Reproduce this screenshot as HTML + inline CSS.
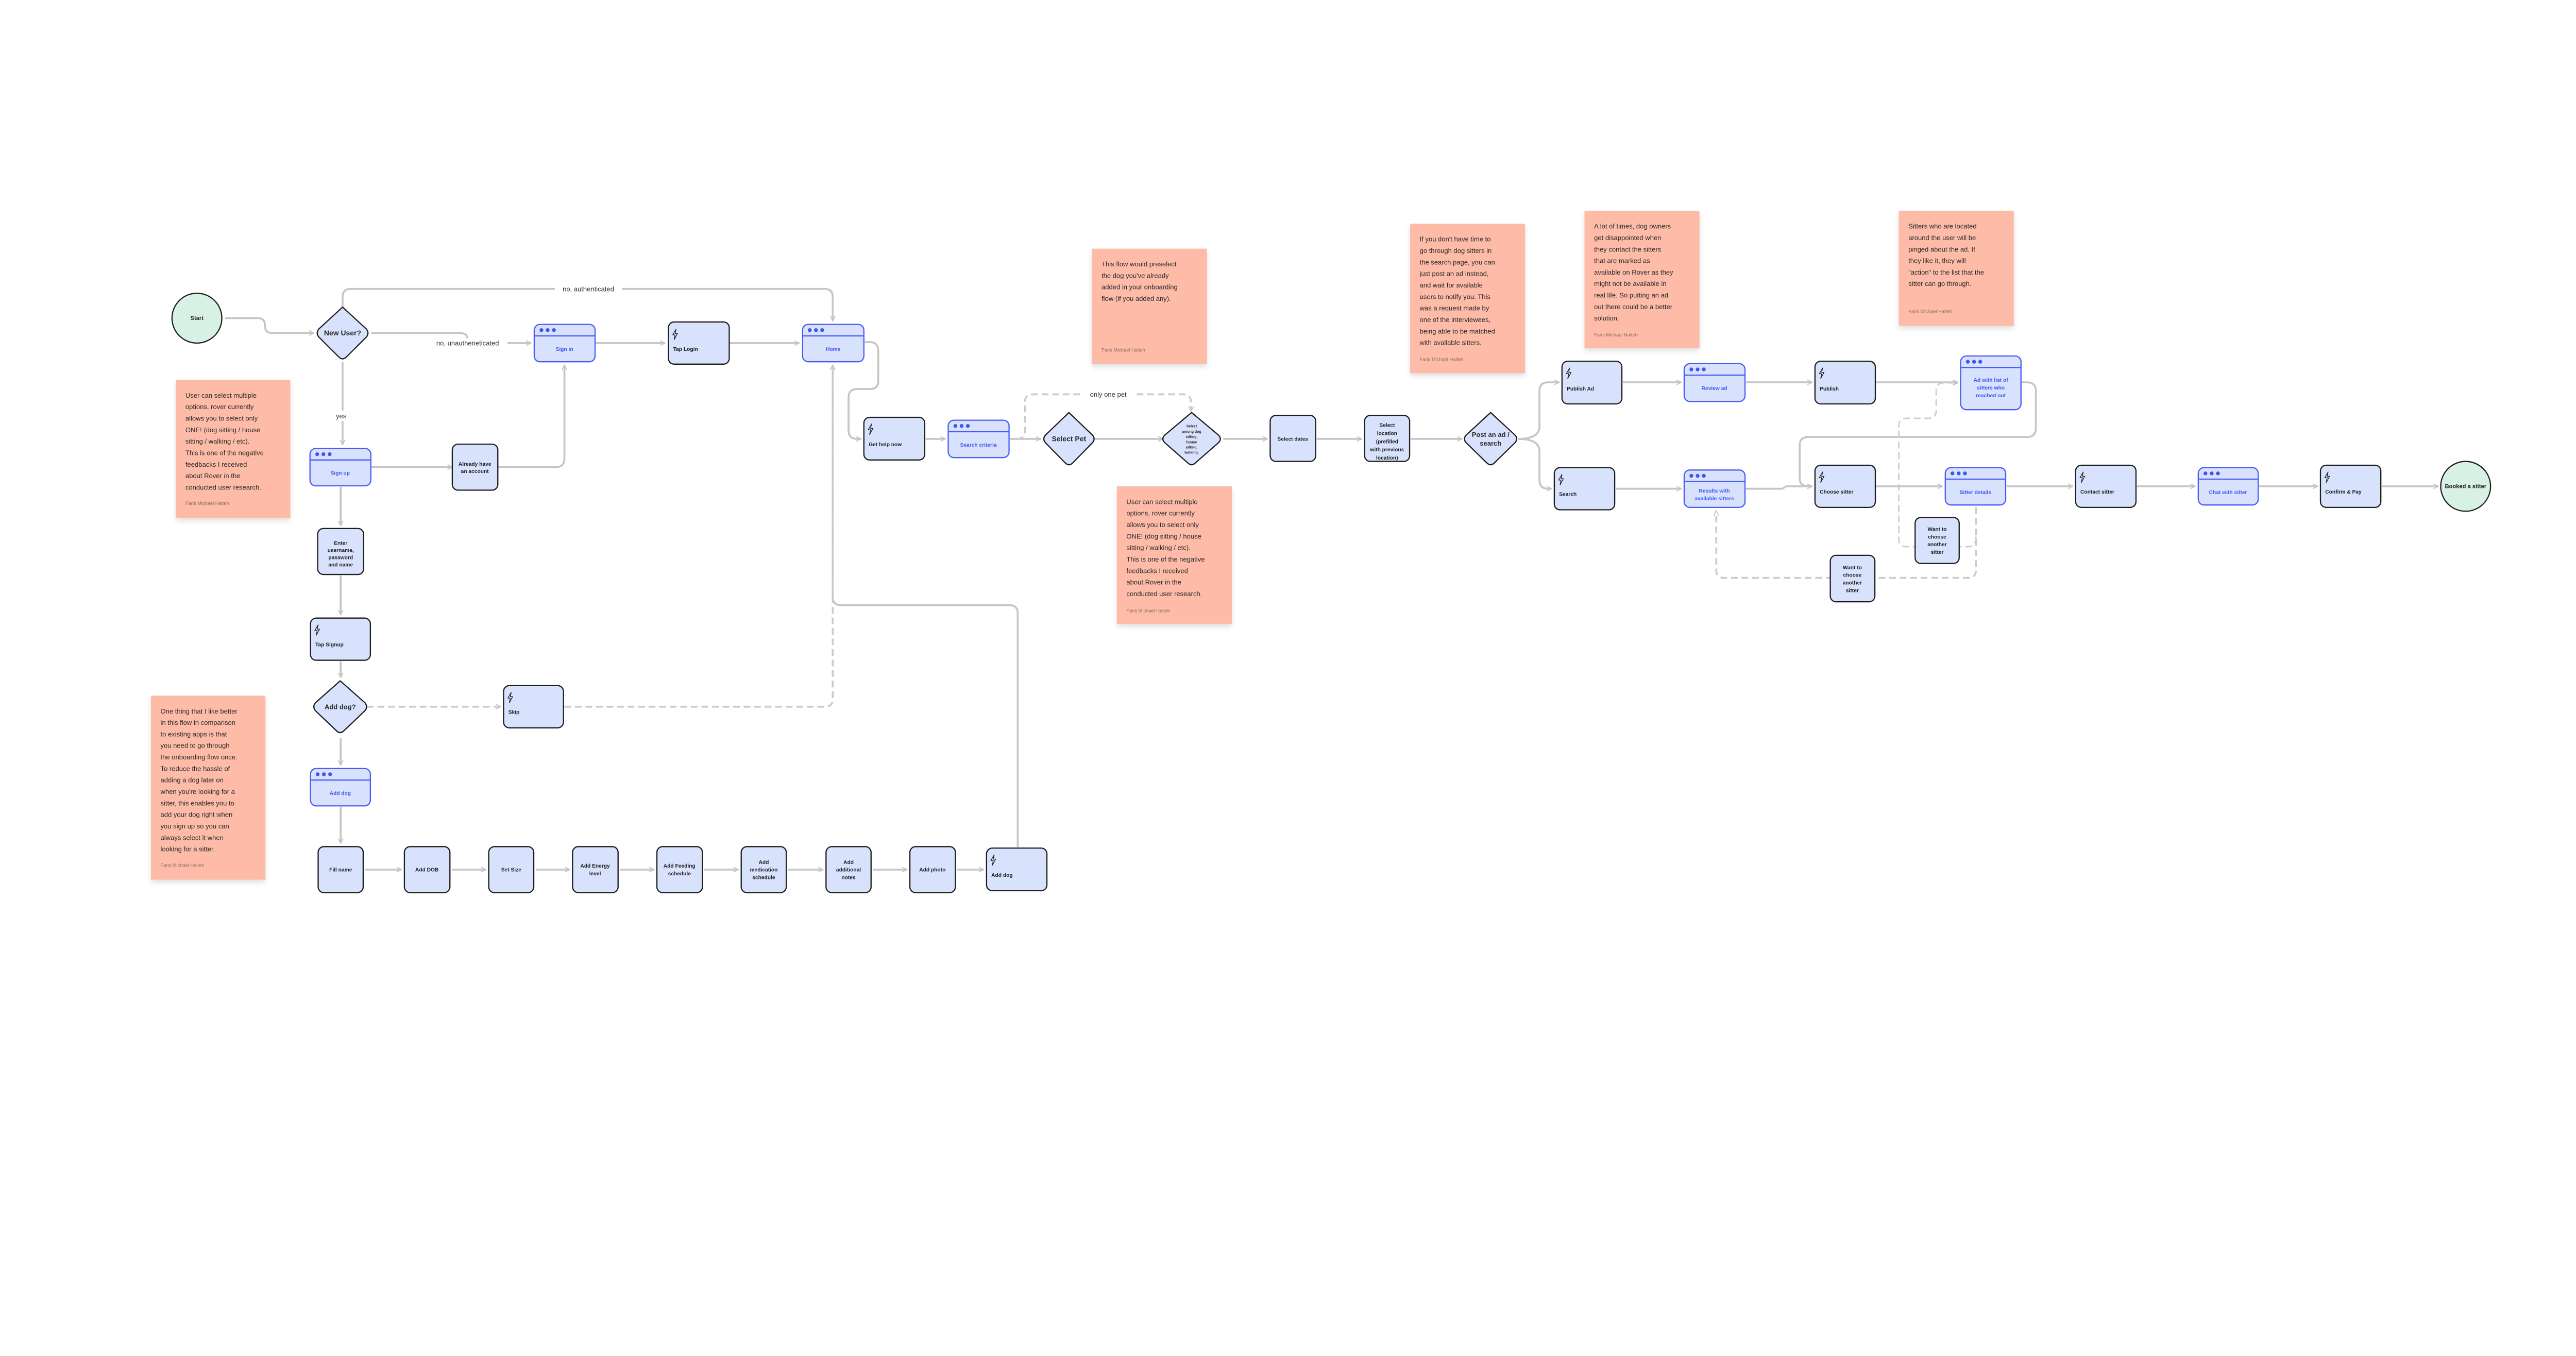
<!DOCTYPE html>
<html><head><meta charset="utf-8"><style>
html,body{margin:0;padding:0;background:#fff;}
body{width:5388px;height:2629px;position:relative;overflow:hidden;font-family:"Liberation Sans",sans-serif;}
#w{position:absolute;left:0;top:0;width:5800px;height:2830px;transform:scale(0.93);transform-origin:0 0;}
.note{position:absolute;background:#fdbba8;box-shadow:0 6px 10px rgba(0,0,0,0.12);box-sizing:border-box;padding:20px 18px 0 20px;font-size:14px;line-height:24px;color:#2a2a2a;}
.note .a{position:absolute;left:20px;font-size:10px;color:#8a6a60;line-height:12px;}
svg{position:absolute;left:0;top:0;}
</style></head><body><div id="w">
<svg width="5800" height="2830" viewBox="0 0 5800 2830" xmlns="http://www.w3.org/2000/svg" font-family="Liberation Sans, sans-serif">
<defs>
<marker id="ar" viewBox="0 0 12 12" refX="11" refY="6" markerWidth="12" markerHeight="12" markerUnits="userSpaceOnUse" orient="auto"><path d="M1,1 L11,6 L1,11" fill="none" stroke="#c4c4c4" stroke-width="2"/></marker>
<symbol id="bolt" viewBox="0 0 12 24"><path d="M8,1 L1,13 L6,13 L4,23 L11,10 L6,10 Z" fill="none" stroke="#1e1e1e" stroke-width="1.4" stroke-linejoin="round"/></symbol>
</defs>
<g fill="none" stroke="#c6c6c6" stroke-width="4" marker-end="url(#ar)">
<path d="M470,664 H538 Q553,664 553,679 V680 Q553,695 568,695 H655"/>
<path d="M715,641 V620 Q715,603 732,603 H1721 Q1738,603 1738,620 V670"/>
<path d="M775,695 H958 Q975,695 975,705 Q975,716 992,716 H1108"/>
<path d="M1242,716 H1388"/>
<path d="M1522,716 H1668"/>
<path d="M715,755 V928"/>
<path d="M774,975 H944" marker-end=""/>
<path d="M1039,975 H1160 Q1178,975 1178,957 V762"/>
<path d="M711,1016 V1097"/>
<path d="M711,1201 V1283"/>
<path d="M711,1380 V1414"/>
<path d="M711,1540 V1597"/>
<path d="M711,1684 V1760"/>
<path d="M762,1815 H838"/><path d="M943,1815 H1014"/><path d="M1118,1815 H1189"/><path d="M1294,1815 H1365"/><path d="M1470,1815 H1541"/><path d="M1645,1815 H1718"/><path d="M1822,1815 H1893"/><path d="M1998,1815 H2053"/>
<path d="M2124,1768 V1280 Q2124,1263 2107,1263 H1755 Q1738,1263 1738,1246 V762"/>
<path d="M1805,714 H1815 Q1833,714 1833,732 V795 Q1833,812 1815,812 H1789 Q1771,812 1771,830 V898 Q1771,916 1789,916 H1797"/>
<path d="M1932,916 H1973"/>
<path d="M2108,916 H2172"/>
<path d="M2286,916 H2427"/>
<path d="M2553,916 H2645"/>
<path d="M2748,916 H2842"/>
<path d="M2944,916 H3051"/>
<path d="M3168,916 Q3213,916 3213,890 V816 Q3213,798 3231,798 H3254"/>
<path d="M3168,916 Q3213,916 3213,942 V1002 Q3213,1020 3231,1020 H3238"/>
<path d="M3387,798 H3509"/>
<path d="M3644,798 H3782"/>
<path d="M3916,798 H4086"/>
<path d="M4220,798 H4231 Q4249,798 4249,816 V894 Q4249,912 4231,912 H3774 Q3756,912 3756,930 V997 Q3756,1015 3774,1015 H3782"/>
<path d="M3372,1020 H3509"/>
<path d="M3644,1020 H3720 L3728,1015 H3782"/>
<path d="M3916,1015 H4054"/>
<path d="M4188,1015 H4326"/>
<path d="M4460,1015 H4582"/>
<path d="M4715,1015 H4837"/>
<path d="M4971,1015 H5089"/>
</g>
<g fill="none" stroke="#cccccc" stroke-width="4" stroke-dasharray="14,8" marker-end="url(#ar)">
<path d="M766,1475 H1045"/>
<path d="M1178,1475 H1722 Q1738,1475 1738,1459 V762" marker-end=""/>
<path d="M2122,916 Q2139,916 2139,899 V840 Q2139,823 2156,823 H2469 Q2486,823 2486,840 V858"/>
<path d="M4124,1059 V1190 Q4124,1206 4108,1206 H3598 Q3582,1206 3582,1190 V1066"/>
<path d="M4124,1120 Q4124,1141 4108,1141 H3979 Q3963,1141 3963,1125 V889 Q3963,873 3979,873 H4025 Q4041,873 4041,857 V815 Q4041,799 4057,799 H4086" stroke-width="3"/>
</g>
<g font-size="14" fill="#333" text-anchor="middle">
<rect x="1158" y="593" width="140" height="20" fill="#fff"/><text x="1228" y="608">no, authenticated</text>
<rect x="893" y="706" width="166" height="20" fill="#fff"/><text x="976" y="721">no, unautheneticated</text>
<rect x="698" y="857" width="28" height="22" fill="#fff"/><text x="712" y="873">yes</text>
<rect x="2258" y="813" width="110" height="20" fill="#fff"/><text x="2313" y="828">only one pet</text>
</g>
<ellipse cx="411" cy="664" rx="52" ry="52" fill="#d7f2e4" stroke="#1e1e1e" stroke-width="2.5"/>
<text x="411" y="668" font-size="12" font-weight="bold" text-anchor="middle" fill="#1e1e1e">Start</text>
<ellipse cx="5146" cy="1015" rx="52" ry="52" fill="#d7f2e4" stroke="#1e1e1e" stroke-width="2.5"/>
<text x="5146" y="1019" font-size="12" font-weight="bold" text-anchor="middle" fill="#1e1e1e">Booked a sitter</text>
<g fill="#d8e2fd" stroke="#1e1e1e" stroke-width="2.5" stroke-linejoin="round">
<path d="M715,641 L765,687 Q771,695 765,703 L723,745 Q715,753 707,745 L665,703 Q659,695 665,687 Z"/>
<path d="M710,1421 L762,1467 Q768,1475 762,1483 L718,1525 Q710,1533 702,1525 L658,1483 Q652,1475 658,1467 Z"/>
<path d="M2231,861 L2280,908 Q2287,916 2280,924 L2239,966 Q2231,974 2223,966 L2182,924 Q2175,916 2182,908 Z"/>
<path d="M2487,861 L2543,908 Q2551,916 2543,924 L2495,966 Q2487,974 2479,966 L2431,924 Q2423,916 2431,908 Z"/>
<path d="M3111,861 L3162,908 Q3169,916 3162,924 L3119,966 Q3111,974 3103,966 L3060,924 Q3053,916 3060,908 Z"/>
</g>
<g font-weight="bold" text-anchor="middle" fill="#2a2a2a">
<text x="715" y="700" font-size="15">New User?</text>
<text x="710" y="1480" font-size="14">Add dog?</text>
<text x="2231" y="921" font-size="15">Select Pet</text>
<text x="3111" y="912" font-size="14">Post an ad /</text>
<text x="3111" y="930" font-size="14">search</text>
<g font-size="7.5"><text x="2487" y="892">Select</text><text x="2487" y="903">among dog</text><text x="2487" y="914">sitting,</text><text x="2487" y="925">house</text><text x="2487" y="936">sitting,</text><text x="2487" y="947">walking,</text></g>
</g>
<g fill="#d8e2fd" stroke="#1e1e1e" stroke-width="2.5">
<rect x="944" y="927" width="95" height="96" rx="12"/>
<rect x="663" y="1103" width="96" height="96" rx="12"/>
<rect x="664" y="1767" width="94" height="96" rx="12"/>
<rect x="844" y="1767" width="95" height="96" rx="12"/>
<rect x="1020" y="1767" width="94" height="96" rx="12"/>
<rect x="1195" y="1767" width="95" height="96" rx="12"/>
<rect x="1371" y="1767" width="95" height="96" rx="12"/>
<rect x="1547" y="1767" width="94" height="96" rx="12"/>
<rect x="1724" y="1767" width="94" height="96" rx="12"/>
<rect x="1899" y="1767" width="95" height="96" rx="12"/>
<rect x="2651" y="867" width="95" height="96" rx="12"/>
<rect x="2848" y="867" width="94" height="96" rx="12"/>
<rect x="3997" y="1080" width="92" height="96" rx="12"/>
<rect x="3820" y="1159" width="93" height="97" rx="12"/>
</g>
<g font-size="11" font-weight="bold" text-anchor="middle" fill="#1e1e1e">
<text x="991" y="972">Already have</text><text x="991" y="987">an account</text>
<text x="711" y="1137">Enter</text><text x="711" y="1152">username,</text><text x="711" y="1167">password</text><text x="711" y="1182">and name</text>
<text x="711" y="1819">Fill name</text>
<text x="891" y="1819">Add DOB</text>
<text x="1067" y="1819">Set Size</text>
<text x="1242" y="1811">Add Energy</text><text x="1242" y="1827">level</text>
<text x="1418" y="1811">Add Feeding</text><text x="1418" y="1827">schedule</text>
<text x="1594" y="1803">Add</text><text x="1594" y="1819">medication</text><text x="1594" y="1835">schedule</text>
<text x="1771" y="1803">Add</text><text x="1771" y="1819">additional</text><text x="1771" y="1835">notes</text>
<text x="1946" y="1819">Add photo</text>
<text x="2698" y="920">Select dates</text>
<text x="2895" y="891">Select</text><text x="2895" y="908">location</text><text x="2895" y="925">(prefilled</text><text x="2895" y="942">with previous</text><text x="2895" y="959">location)</text>
<text x="4043" y="1108">Want to</text><text x="4043" y="1124">choose</text><text x="4043" y="1140">another</text><text x="4043" y="1156">sitter</text>
<text x="3866" y="1188">Want to</text><text x="3866" y="1204">choose</text><text x="3866" y="1220">another</text><text x="3866" y="1236">sitter</text>
</g>
<g fill="#d8e2fd" stroke="#1e1e1e" stroke-width="2.5">
<rect x="1395" y="672" width="127" height="88" rx="12"/>
<rect x="648" y="1290" width="125" height="88" rx="12"/>
<rect x="1051" y="1431" width="125" height="88" rx="12"/>
<rect x="2059" y="1770" width="126" height="89" rx="12"/>
<rect x="1803" y="871" width="127" height="89" rx="12"/>
<rect x="3260" y="754" width="125" height="89" rx="12"/>
<rect x="3788" y="754" width="126" height="89" rx="12"/>
<rect x="3244" y="976" width="126" height="88" rx="12"/>
<rect x="3788" y="971" width="126" height="88" rx="12"/>
<rect x="4332" y="971" width="126" height="88" rx="12"/>
<rect x="4843" y="971" width="126" height="88" rx="12"/>
</g>
<g>
<use href="#bolt" x="1403" y="686" width="12" height="24"/>
<use href="#bolt" x="656" y="1303" width="12" height="24"/>
<use href="#bolt" x="1059" y="1444" width="12" height="24"/>
<use href="#bolt" x="2067" y="1783" width="12" height="24"/>
<use href="#bolt" x="1811" y="884" width="12" height="24"/>
<use href="#bolt" x="3268" y="767" width="12" height="24"/>
<use href="#bolt" x="3796" y="767" width="12" height="24"/>
<use href="#bolt" x="3252" y="989" width="12" height="24"/>
<use href="#bolt" x="3796" y="984" width="12" height="24"/>
<use href="#bolt" x="4340" y="984" width="12" height="24"/>
<use href="#bolt" x="4851" y="984" width="12" height="24"/>
</g>
<g font-size="11" font-weight="bold" fill="#1e1e1e">
<text x="1405" y="732">Tap Login</text>
<text x="658" y="1349">Tap Signup</text>
<text x="1061" y="1490">Skip</text>
<text x="2069" y="1830">Add dog</text>
<text x="1813" y="931">Get help now</text>
<text x="3270" y="815">Publish Ad</text>
<text x="3798" y="815">Publish</text>
<text x="3254" y="1035">Search</text>
<text x="3798" y="1030">Choose sitter</text>
<text x="4342" y="1030">Contact sitter</text>
<text x="4853" y="1030">Confirm &amp; Pay</text>
</g>
<g fill="#d8e2fd" stroke="#4a5cf7" stroke-width="2.5">
<rect x="1115" y="677" width="127" height="78" rx="12"/><path d="M1115,701 H1242"/>
<rect x="1675" y="677" width="128" height="78" rx="12"/><path d="M1675,701 H1803"/>
<rect x="647" y="936" width="127" height="78" rx="12"/><path d="M647,960 H774"/>
<rect x="648" y="1604" width="125" height="78" rx="12"/><path d="M648,1628 H773"/>
<rect x="1979" y="877" width="127" height="78" rx="12"/><path d="M1979,901 H2106"/>
<rect x="3515" y="759" width="127" height="79" rx="12"/><path d="M3515,783 H3642"/>
<rect x="4092" y="743" width="126" height="112" rx="12"/><path d="M4092,767 H4218"/>
<rect x="3515" y="981" width="127" height="78" rx="12"/><path d="M3515,1005 H3642"/>
<rect x="4060" y="976" width="126" height="78" rx="12"/><path d="M4060,1000 H4186"/>
<rect x="4588" y="976" width="125" height="78" rx="12"/><path d="M4588,1000 H4713"/>
</g>
<g fill="#3f55f5">
<circle cx="1130" cy="689" r="4"/><circle cx="1143" cy="689" r="4"/><circle cx="1156" cy="689" r="4"/>
<circle cx="1690" cy="689" r="4"/><circle cx="1703" cy="689" r="4"/><circle cx="1716" cy="689" r="4"/>
<circle cx="662" cy="948" r="4"/><circle cx="675" cy="948" r="4"/><circle cx="688" cy="948" r="4"/>
<circle cx="663" cy="1616" r="4"/><circle cx="676" cy="1616" r="4"/><circle cx="689" cy="1616" r="4"/>
<circle cx="1994" cy="889" r="4"/><circle cx="2007" cy="889" r="4"/><circle cx="2020" cy="889" r="4"/>
<circle cx="3530" cy="771" r="4"/><circle cx="3543" cy="771" r="4"/><circle cx="3556" cy="771" r="4"/>
<circle cx="4107" cy="755" r="4"/><circle cx="4120" cy="755" r="4"/><circle cx="4133" cy="755" r="4"/>
<circle cx="3530" cy="993" r="4"/><circle cx="3543" cy="993" r="4"/><circle cx="3556" cy="993" r="4"/>
<circle cx="4075" cy="988" r="4"/><circle cx="4088" cy="988" r="4"/><circle cx="4101" cy="988" r="4"/>
<circle cx="4603" cy="988" r="4"/><circle cx="4616" cy="988" r="4"/><circle cx="4629" cy="988" r="4"/>
</g>
<g font-size="11" font-weight="bold" text-anchor="middle" fill="#3f55f5">
<text x="1178" y="732">Sign in</text>
<text x="1739" y="732">Home</text>
<text x="710" y="991">Sign up</text>
<text x="710" y="1659">Add dog</text>
<text x="2042" y="932">Search criteria</text>
<text x="3578" y="814">Review ad</text>
<text x="4155" y="797">Ad with list of</text><text x="4155" y="813">sitters who</text><text x="4155" y="829">reached out</text>
<text x="3578" y="1028">Results with</text><text x="3578" y="1044">available sitters</text>
<text x="4123" y="1031">Sitter details</text>
<text x="4650" y="1031">Chat with sitter</text>
</g>
</svg>

<div class="note" style="left:367px;top:793px;width:239px;height:288px;">User can select multiple<br>options, rover currently<br>allows you to select only<br>ONE! (dog sitting / house<br>sitting / walking / etc).<br>This is one of the negative<br>feedbacks I received<br>about Rover in the<br>conducted user research.<div class="a" style="top:253px;">Faris Michael Halteh</div></div>

<div class="note" style="left:315px;top:1452px;width:239px;height:384px;">One thing that I like better<br>in this flow in comparison<br>to existing apps is that<br>you need to go through<br>the onboarding flow once.<br>To reduce the hassle of<br>adding a dog later on<br>when you're looking for a<br>sitter, this enables you to<br>add your dog right when<br>you sign up so you can<br>always select it when<br>looking for a sitter.<div class="a" style="top:349px;">Faris Michael Halteh</div></div>

<div class="note" style="left:2279px;top:519px;width:240px;height:241px;">This flow would preselect<br>the dog you've already<br>added in your onboarding<br>flow (if you added any).<div class="a" style="top:207px;">Faris Michael Halteh</div></div>

<div class="note" style="left:2331px;top:1015px;width:240px;height:287px;">User can select multiple<br>options, rover currently<br>allows you to select only<br>ONE! (dog sitting / house<br>sitting / walking / etc).<br>This is one of the negative<br>feedbacks I received<br>about Rover in the<br>conducted user research.<div class="a" style="top:255px;">Faris Michael Halteh</div></div>

<div class="note" style="left:2943px;top:467px;width:240px;height:312px;">If you don't have time to<br>go through dog sitters in<br>the search page, you can<br>just post an ad instead,<br>and wait for available<br>users to notify you. This<br>was a request made by<br>one of the interviewees,<br>being able to be matched<br>with available sitters.<div class="a" style="top:278px;">Faris Michael Halteh</div></div>

<div class="note" style="left:3307px;top:440px;width:240px;height:287px;">A lot of times, dog owners<br>get disappointed when<br>they contact the sitters<br>that are marked as<br>available on Rover as they<br>might not be available in<br>real life. So putting an ad<br>out there could be a better<br>solution.<div class="a" style="top:254px;">Faris Michael Halteh</div></div>

<div class="note" style="left:3963px;top:440px;width:240px;height:240px;">Sitters who are located<br>around the user will be<br>pinged about the ad. If<br>they like it, they will<br>"action" to the list that the<br>sitter can go through.<div class="a" style="top:205px;">Faris Michael Halteh</div></div>
</div></body></html>
